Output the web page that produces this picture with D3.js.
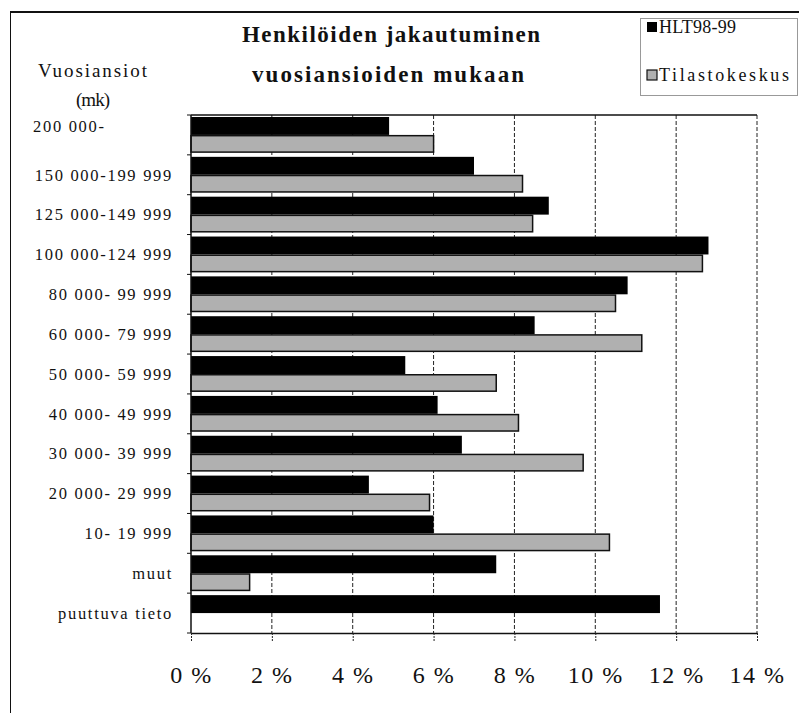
<!DOCTYPE html>
<html>
<head>
<meta charset="utf-8">
<script src="https://cdn.jsdelivr.net/npm/d3@7"></script>
<style>
  html, body { margin: 0; padding: 0; background: #fff; }
  svg { display: block; }
  text { font-family: "Liberation Serif", "Times New Roman", serif; fill: #111; }
</style>
</head>
<body>
<svg id="chart" width="799" height="713"></svg>
<script>
// ---- data ----
const categories = ["200 000-", "150 000-199 999", "125 000-149 999", "100 000-124 999",
  "80 000- 99 999", "60 000- 79 999", "50 000- 59 999", "40 000- 49 999",
  "30 000- 39 999", "20 000- 29 999", "10- 19 999", "muut", "puuttuva tieto"];
const seriesNames = ["HLT98-99", "Tilastokeskus"];
const hltValues = [4.9, 7.0, 8.85, 12.8, 10.8, 8.5, 5.3, 6.1, 6.7, 4.4, 6.0, 7.55, 11.6];
const tilastoValues = [6.0, 8.2, 8.45, 12.65, 10.5, 11.15, 7.55, 8.1, 9.7, 5.9, 10.35, 1.45, null];
const xTicks = [0, 2, 4, 6, 8, 10, 12, 14];
const xTickLabels = ["0 %", "2 %", "4 %", "6 %", "8 %", "10 %", "12 %", "14 %"];
const titleLines = ["Henkilöiden jakautuminen", "vuosiansioiden mukaan"];
const yTitleLines = ["Vuosiansiot", "(mk)"];

const seriesValues = [hltValues, tilastoValues];
const colors = { "HLT98-99": "#000000", "Tilastokeskus": "#b0b0b0" };

const svg = d3.select("#chart");
const plot = { left: 191, right: 757, top: 115, bottom: 633 };

// outer frame
svg.append("rect").attr("x", 10.5).attr("y", 12).attr("width", 800).attr("height", 710)
  .attr("fill", "none").attr("stroke", "#111").attr("stroke-width", 1);
svg.append("line").attr("x1", 10).attr("x2", 799).attr("y1", 12).attr("y2", 12)
  .attr("stroke", "#111").attr("stroke-width", 2);

const x = d3.scaleLinear().domain([0, 14]).range([plot.left, plot.right]);
const y = d3.scaleBand().domain(categories).range([plot.top, plot.bottom])
  .paddingInner(0.1).paddingOuter(0.05);
const ySub = d3.scaleBand().domain(seriesNames).range([0, y.bandwidth()]);

// gridlines
svg.append("g").selectAll("line").data(xTicks.filter(d => d > 0)).join("line")
  .attr("x1", d => x(d)).attr("x2", d => x(d))
  .attr("y1", plot.top).attr("y2", plot.bottom)
  .attr("stroke", "#222").attr("stroke-width", 1).attr("stroke-dasharray", "4,2");

// bars
const rows = categories.map((c, i) => ({ cat: c, vals: seriesNames.map((s, k) => ({ s, v: seriesValues[k][i] })) }));
const g = svg.append("g").selectAll("g").data(rows).join("g")
  .attr("transform", d => `translate(0,${y(d.cat)})`);
g.selectAll("rect").data(d => d.vals.filter(e => e.v != null)).join("rect")
  .attr("x", x(0))
  .attr("y", d => ySub(d.s) + (d.s === "Tilastokeskus" ? 0.75 : 0))
  .attr("width", d => x(d.v) - x(0))
  .attr("height", d => ySub.bandwidth() - (d.s === "Tilastokeskus" ? 1.5 : 0))
  .attr("fill", d => colors[d.s])
  .attr("stroke", d => d.s === "Tilastokeskus" ? "#111" : "none")
  .attr("stroke-width", 1.5);

// top border of plot
svg.append("line").attr("x1", plot.left).attr("x2", plot.right)
  .attr("y1", plot.top).attr("y2", plot.top).attr("stroke", "#111").attr("stroke-width", 1.5);

// x axis
const xAxis = svg.append("g").attr("transform", `translate(0,${plot.bottom})`)
  .call(d3.axisBottom(x).tickValues(xTicks).tickSize(8).tickSizeOuter(0)
    .tickFormat((d, i) => xTickLabels[i]));
xAxis.select(".domain").attr("stroke", "#111").attr("stroke-width", 1.5);
xAxis.selectAll(".tick line").attr("stroke", "#222").attr("stroke-dasharray", "2,1");
xAxis.selectAll(".tick text").attr("y", 0).attr("dy", 50)
  .style("font-family", "'Liberation Serif', serif").style("font-size", "24px")
  .style("letter-spacing", "1.5px").attr("fill", "#111");

// y axis line and boundary ticks
svg.append("line").attr("x1", plot.left).attr("x2", plot.left)
  .attr("y1", plot.top).attr("y2", plot.bottom).attr("stroke", "#111").attr("stroke-width", 1.5);
const bounds = categories.map(c => y(c) - y.step() * y.paddingInner() / 2);
bounds.push(plot.bottom);
svg.append("g").selectAll("line").data(bounds).join("line")
  .attr("x1", plot.left - 4).attr("x2", plot.left)
  .attr("y1", d => d).attr("y2", d => d).attr("stroke", "#111");

// category labels
svg.append("g").selectAll("text").data(categories).join("text")
  .attr("x", (d, i) => i === 0 ? 33 : 173)
  .attr("y", (d, i) => y(d) + y.bandwidth() / 2 - (i === 0 ? 9 : 0))
  .attr("dy", "0.35em")
  .attr("text-anchor", (d, i) => i === 0 ? "start" : "end")
  .style("font-size", "16.5px").style("letter-spacing", "1.7px")
  .text(d => d);

// title
const titleSpec = [{ cx: 391, y: 42, w: 298 }, { cx: 388, y: 82, w: 272 }];
svg.append("g").selectAll("text").data(titleLines).join("text")
  .attr("x", (d, i) => titleSpec[i].cx - titleSpec[i].w / 2)
  .attr("y", (d, i) => titleSpec[i].y)
  .attr("textLength", (d, i) => titleSpec[i].w).attr("lengthAdjust", "spacing")
  .style("font-size", "23px").style("font-weight", "bold")
  .text(d => d);

// y title
const ySpec = [{ x: 38, y: 77, w: 109 }, { x: 76, y: 106, w: 34 }];
svg.append("g").selectAll("text").data(yTitleLines).join("text")
  .attr("x", (d, i) => ySpec[i].x).attr("y", (d, i) => ySpec[i].y)
  .attr("textLength", (d, i) => ySpec[i].w).attr("lengthAdjust", "spacing")
  .style("font-size", "19px")
  .text(d => d);

// legend
svg.append("rect").attr("x", 640.5).attr("y", 18.5).attr("width", 157).attr("height", 77)
  .attr("fill", "#fff").attr("stroke", "#333").attr("stroke-width", 1).attr("stroke-dasharray", "1,1");
const legSpec = [{ y: 33, w: 77 }, { y: 81, w: 130 }];
const leg = svg.append("g").selectAll("g").data(seriesNames).join("g");
leg.append("rect")
  .attr("x", 647).attr("y", (d, i) => legSpec[i].y - 11)
  .attr("width", 10).attr("height", 10)
  .attr("fill", d => colors[d])
  .attr("stroke", d => d === "Tilastokeskus" ? "#111" : "none").attr("stroke-width", 1.2);
leg.append("text")
  .attr("x", 659).attr("y", (d, i) => legSpec[i].y)
  .attr("textLength", (d, i) => legSpec[i].w).attr("lengthAdjust", "spacing")
  .style("font-size", "18px")
  .text(d => d);
</script>
</body>
</html>
